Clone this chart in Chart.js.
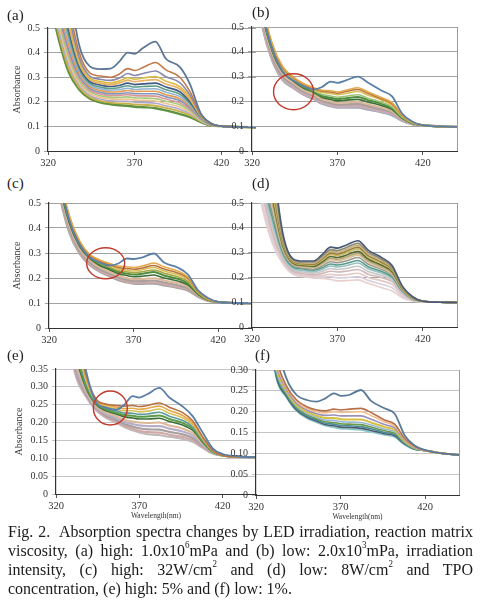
<!DOCTYPE html>
<html><head><meta charset="utf-8">
<script src="https://cdn.jsdelivr.net/npm/chart.js@4.4.0/dist/chart.umd.min.js"></script>
<style>
html,body{margin:0;padding:0;background:#fff;}
body{width:483px;height:600px;position:relative;overflow:hidden;font-family:'Liberation Serif','Times New Roman',serif;color:#222;}
canvas{position:absolute;}
.lbl{position:absolute;font-size:15px;line-height:15px;color:#222;}
.cap{position:absolute;left:8px;top:522px;width:465px;font-size:16px;line-height:17.1px;color:#1a1a1a;transform:scale(1,1.1);transform-origin:0 0;}
.cap div{text-align:justify;text-align-last:justify;}
.cap div.last{text-align-last:left;}
.cap sup{font-size:9px;line-height:0;vertical-align:baseline;position:relative;top:-0.75em;}
</style>
</head><body>
<script>
// ---------- shared axis values ----------
const WAVELENGTHS = [320, 326, 332, 338, 344, 350, 356, 361, 366, 370, 375, 382, 388, 396, 402, 408, 414, 420, 430, 440];
const X_TICKS = [320, 370, 420];

// ---------- (a) high viscosity ----------
const a1 = [1.5, 1.0, 0.68, 0.43, 0.345, 0.333, 0.335, 0.362, 0.40, 0.395, 0.42, 0.445, 0.375, 0.342, 0.27, 0.155, 0.113, 0.101, 0.098, 0.096];
const a2 = [1.3, 0.9, 0.6, 0.40, 0.318, 0.305, 0.30, 0.312, 0.335, 0.327, 0.34, 0.36, 0.33, 0.30, 0.24, 0.15, 0.112, 0.101, 0.098, 0.096];
const a3 = [1.2, 0.83, 0.56, 0.38, 0.305, 0.292, 0.287, 0.296, 0.315, 0.307, 0.315, 0.325, 0.302, 0.278, 0.226, 0.148, 0.111, 0.101, 0.098, 0.096];
const a4 = [1.12, 0.78, 0.53, 0.365, 0.296, 0.283, 0.277, 0.284, 0.298, 0.292, 0.297, 0.303, 0.284, 0.262, 0.216, 0.145, 0.11, 0.101, 0.098, 0.096];
const a5 = [1.06, 0.74, 0.51, 0.355, 0.29, 0.276, 0.27, 0.276, 0.288, 0.282, 0.286, 0.29, 0.272, 0.252, 0.208, 0.143, 0.109, 0.101, 0.098, 0.096];
const a6 = [1.0, 0.7, 0.49, 0.345, 0.283, 0.268, 0.262, 0.266, 0.276, 0.27, 0.273, 0.276, 0.26, 0.241, 0.2, 0.141, 0.108, 0.101, 0.098, 0.096];
const a7 = [0.96, 0.67, 0.47, 0.335, 0.276, 0.26, 0.254, 0.257, 0.265, 0.26, 0.262, 0.264, 0.249, 0.231, 0.193, 0.139, 0.108, 0.101, 0.098, 0.096];
const a8 = [0.92, 0.64, 0.45, 0.325, 0.269, 0.253, 0.247, 0.249, 0.255, 0.25, 0.252, 0.253, 0.239, 0.222, 0.187, 0.137, 0.107, 0.101, 0.098, 0.096];
const a9 = [0.88, 0.61, 0.43, 0.315, 0.262, 0.246, 0.24, 0.241, 0.246, 0.242, 0.243, 0.243, 0.229, 0.213, 0.181, 0.135, 0.107, 0.101, 0.098, 0.096];
const a10 = [0.84, 0.58, 0.41, 0.305, 0.255, 0.239, 0.233, 0.233, 0.237, 0.233, 0.233, 0.233, 0.22, 0.205, 0.175, 0.133, 0.106, 0.101, 0.098, 0.096];
const a11 = [0.8, 0.56, 0.395, 0.295, 0.248, 0.232, 0.226, 0.226, 0.229, 0.225, 0.224, 0.223, 0.211, 0.196, 0.169, 0.131, 0.106, 0.101, 0.098, 0.096];
const a12 = [0.77, 0.54, 0.38, 0.285, 0.241, 0.225, 0.219, 0.218, 0.22, 0.216, 0.215, 0.213, 0.202, 0.188, 0.163, 0.128, 0.105, 0.101, 0.098, 0.096];
const a13 = [0.74, 0.52, 0.365, 0.275, 0.234, 0.218, 0.212, 0.21, 0.211, 0.207, 0.206, 0.203, 0.193, 0.179, 0.157, 0.126, 0.105, 0.101, 0.098, 0.096];
const a14 = [0.71, 0.5, 0.35, 0.267, 0.227, 0.211, 0.204, 0.202, 0.202, 0.198, 0.197, 0.194, 0.184, 0.17, 0.151, 0.124, 0.104, 0.101, 0.098, 0.096];
const a15 = [0.68, 0.48, 0.335, 0.258, 0.22, 0.204, 0.197, 0.194, 0.193, 0.189, 0.188, 0.184, 0.175, 0.161, 0.145, 0.121, 0.104, 0.101, 0.098, 0.096];
const a16 = [0.65, 0.46, 0.32, 0.25, 0.213, 0.198, 0.19, 0.186, 0.184, 0.18, 0.178, 0.174, 0.165, 0.15, 0.138, 0.118, 0.103, 0.101, 0.098, 0.096];

// ---------- (b) low viscosity ----------
const b1 = [1.0, 0.58, 0.41, 0.32, 0.285, 0.262, 0.248, 0.258, 0.28, 0.275, 0.285, 0.30, 0.275, 0.243, 0.22, 0.15, 0.118, 0.104, 0.099, 0.097];
const b2 = [0.95, 0.6, 0.43, 0.34, 0.30, 0.272, 0.255, 0.245, 0.243, 0.238, 0.245, 0.255, 0.238, 0.215, 0.195, 0.145, 0.116, 0.104, 0.099, 0.097];
const b3 = [0.93, 0.59, 0.425, 0.335, 0.297, 0.27, 0.252, 0.241, 0.238, 0.233, 0.24, 0.248, 0.232, 0.21, 0.19, 0.143, 0.115, 0.104, 0.099, 0.097];
const b4 = [0.9, 0.58, 0.42, 0.33, 0.293, 0.266, 0.248, 0.236, 0.232, 0.227, 0.232, 0.24, 0.225, 0.205, 0.185, 0.14, 0.114, 0.104, 0.099, 0.097];
const b5 = [0.88, 0.57, 0.41, 0.325, 0.29, 0.262, 0.244, 0.228, 0.222, 0.217, 0.221, 0.227, 0.213, 0.196, 0.178, 0.137, 0.113, 0.104, 0.099, 0.097];
const b6 = [0.87, 0.565, 0.405, 0.322, 0.287, 0.258, 0.24, 0.222, 0.215, 0.209, 0.213, 0.218, 0.205, 0.19, 0.172, 0.134, 0.112, 0.104, 0.099, 0.097];
const b7 = [0.85, 0.555, 0.4, 0.318, 0.283, 0.254, 0.236, 0.216, 0.208, 0.202, 0.205, 0.208, 0.197, 0.183, 0.167, 0.132, 0.111, 0.104, 0.099, 0.097];
const b8 = [0.82, 0.54, 0.39, 0.31, 0.275, 0.246, 0.228, 0.209, 0.2, 0.194, 0.196, 0.198, 0.188, 0.175, 0.16, 0.129, 0.11, 0.104, 0.099, 0.097];
const b9 = [0.8, 0.53, 0.38, 0.3, 0.268, 0.24, 0.222, 0.203, 0.193, 0.187, 0.188, 0.19, 0.181, 0.168, 0.155, 0.127, 0.109, 0.104, 0.099, 0.097];
const b10 = [0.78, 0.52, 0.37, 0.295, 0.262, 0.235, 0.217, 0.198, 0.188, 0.182, 0.183, 0.184, 0.176, 0.163, 0.151, 0.125, 0.108, 0.104, 0.099, 0.097];
const b11 = [0.76, 0.51, 0.365, 0.29, 0.258, 0.231, 0.213, 0.194, 0.184, 0.178, 0.178, 0.179, 0.171, 0.159, 0.147, 0.123, 0.108, 0.104, 0.099, 0.097];
const b12 = [0.74, 0.5, 0.36, 0.285, 0.254, 0.227, 0.209, 0.19, 0.18, 0.174, 0.174, 0.174, 0.166, 0.155, 0.143, 0.121, 0.107, 0.104, 0.099, 0.097];

// ---------- (c) high irradiation intensity ----------
const c1 = [1.0, 0.62, 0.43, 0.335, 0.283, 0.262, 0.25, 0.258, 0.278, 0.276, 0.282, 0.298, 0.262, 0.242, 0.215, 0.152, 0.12, 0.104, 0.1, 0.099];
const c2 = [0.95, 0.63, 0.45, 0.35, 0.295, 0.272, 0.258, 0.248, 0.245, 0.242, 0.248, 0.26, 0.245, 0.228, 0.205, 0.15, 0.117, 0.104, 0.1, 0.099];
const c3 = [0.93, 0.62, 0.445, 0.346, 0.292, 0.268, 0.253, 0.242, 0.238, 0.235, 0.24, 0.25, 0.236, 0.22, 0.2, 0.147, 0.116, 0.104, 0.1, 0.099];
const c4 = [0.91, 0.61, 0.44, 0.342, 0.289, 0.264, 0.248, 0.236, 0.232, 0.228, 0.233, 0.242, 0.228, 0.213, 0.194, 0.144, 0.115, 0.104, 0.1, 0.099];
const c5 = [0.89, 0.6, 0.435, 0.338, 0.286, 0.26, 0.243, 0.23, 0.225, 0.221, 0.225, 0.232, 0.219, 0.205, 0.187, 0.141, 0.114, 0.104, 0.1, 0.099];
const c6 = [0.88, 0.595, 0.43, 0.335, 0.283, 0.256, 0.238, 0.224, 0.218, 0.214, 0.217, 0.224, 0.21, 0.197, 0.18, 0.138, 0.113, 0.104, 0.1, 0.099];
const c7 = [0.86, 0.585, 0.42, 0.328, 0.278, 0.25, 0.232, 0.217, 0.21, 0.205, 0.207, 0.212, 0.2, 0.188, 0.173, 0.135, 0.112, 0.104, 0.1, 0.099];
const c8 = [0.83, 0.57, 0.41, 0.318, 0.27, 0.242, 0.224, 0.209, 0.2, 0.195, 0.196, 0.199, 0.19, 0.179, 0.166, 0.132, 0.111, 0.104, 0.1, 0.099];
const c9 = [0.8, 0.555, 0.4, 0.31, 0.263, 0.235, 0.217, 0.202, 0.193, 0.188, 0.188, 0.19, 0.182, 0.171, 0.16, 0.129, 0.11, 0.104, 0.1, 0.099];
const c10 = [0.78, 0.545, 0.39, 0.303, 0.257, 0.229, 0.211, 0.196, 0.187, 0.182, 0.182, 0.183, 0.176, 0.165, 0.155, 0.127, 0.109, 0.104, 0.1, 0.099];
const c11 = [0.76, 0.535, 0.38, 0.297, 0.252, 0.224, 0.206, 0.191, 0.182, 0.177, 0.176, 0.177, 0.17, 0.16, 0.15, 0.125, 0.108, 0.104, 0.1, 0.099];

// ---------- (d) low irradiation intensity ----------
const d1 = [1.5, 1.0, 0.68, 0.38, 0.275, 0.266, 0.266, 0.292, 0.322, 0.318, 0.33, 0.348, 0.31, 0.28, 0.248, 0.165, 0.122, 0.104, 0.1, 0.099];
const d2 = [1.35, 0.92, 0.64, 0.365, 0.272, 0.262, 0.262, 0.285, 0.312, 0.308, 0.32, 0.338, 0.302, 0.273, 0.243, 0.163, 0.121, 0.104, 0.1, 0.099];
const d3 = [1.25, 0.86, 0.6, 0.355, 0.268, 0.258, 0.257, 0.279, 0.305, 0.301, 0.312, 0.33, 0.295, 0.267, 0.238, 0.161, 0.12, 0.104, 0.1, 0.099];
const d4 = [1.15, 0.8, 0.57, 0.345, 0.265, 0.255, 0.253, 0.274, 0.298, 0.294, 0.305, 0.322, 0.288, 0.261, 0.233, 0.159, 0.119, 0.104, 0.1, 0.099];
const d5 = [1.08, 0.76, 0.54, 0.337, 0.262, 0.252, 0.25, 0.269, 0.292, 0.288, 0.298, 0.315, 0.282, 0.256, 0.229, 0.157, 0.118, 0.104, 0.1, 0.099];
const d6 = [1.02, 0.72, 0.52, 0.33, 0.258, 0.248, 0.245, 0.262, 0.284, 0.28, 0.289, 0.305, 0.274, 0.249, 0.223, 0.155, 0.117, 0.104, 0.1, 0.099];
const d7 = [0.97, 0.69, 0.5, 0.322, 0.255, 0.245, 0.242, 0.257, 0.277, 0.273, 0.282, 0.297, 0.267, 0.243, 0.218, 0.152, 0.116, 0.104, 0.1, 0.099];
const d8 = [0.93, 0.66, 0.48, 0.315, 0.252, 0.242, 0.238, 0.252, 0.271, 0.267, 0.275, 0.29, 0.261, 0.238, 0.213, 0.15, 0.115, 0.104, 0.1, 0.099];
const d9 = [0.89, 0.63, 0.46, 0.308, 0.248, 0.238, 0.234, 0.246, 0.263, 0.259, 0.266, 0.28, 0.253, 0.232, 0.208, 0.148, 0.114, 0.104, 0.1, 0.099];
const d10 = [0.86, 0.61, 0.44, 0.3, 0.243, 0.234, 0.229, 0.239, 0.254, 0.25, 0.256, 0.268, 0.243, 0.224, 0.202, 0.145, 0.113, 0.104, 0.1, 0.099];
const d11 = [0.83, 0.59, 0.42, 0.292, 0.237, 0.228, 0.223, 0.232, 0.246, 0.242, 0.247, 0.258, 0.235, 0.217, 0.197, 0.142, 0.112, 0.104, 0.1, 0.099];
const d12 = [0.8, 0.57, 0.4, 0.284, 0.231, 0.222, 0.217, 0.224, 0.236, 0.232, 0.236, 0.245, 0.224, 0.208, 0.19, 0.139, 0.111, 0.104, 0.1, 0.099];
const d13 = [0.77, 0.55, 0.38, 0.276, 0.225, 0.216, 0.21, 0.216, 0.225, 0.222, 0.225, 0.232, 0.213, 0.199, 0.183, 0.136, 0.11, 0.104, 0.1, 0.099];
const d14 = [0.75, 0.53, 0.365, 0.27, 0.22, 0.21, 0.204, 0.207, 0.213, 0.209, 0.211, 0.217, 0.2, 0.186, 0.172, 0.131, 0.108, 0.103, 0.1, 0.099];
const d15 = [0.72, 0.5, 0.35, 0.262, 0.216, 0.206, 0.2, 0.201, 0.203, 0.198, 0.199, 0.203, 0.188, 0.172, 0.159, 0.124, 0.106, 0.102, 0.1, 0.099];
const d16 = [0.7, 0.48, 0.335, 0.255, 0.212, 0.203, 0.198, 0.196, 0.192, 0.186, 0.187, 0.19, 0.176, 0.158, 0.145, 0.118, 0.105, 0.102, 0.1, 0.099];

// ---------- (e) high TPO concentration ----------
const e1 = [1.0, 0.7, 0.5, 0.345, 0.258, 0.242, 0.236, 0.25, 0.274, 0.27, 0.28, 0.297, 0.27, 0.245, 0.218, 0.172, 0.128, 0.112, 0.105, 0.103];
const e2 = [0.95, 0.66, 0.47, 0.335, 0.266, 0.252, 0.248, 0.246, 0.248, 0.245, 0.248, 0.255, 0.243, 0.228, 0.205, 0.16, 0.123, 0.108, 0.104, 0.103];
const e3 = [0.9, 0.63, 0.45, 0.325, 0.263, 0.249, 0.243, 0.239, 0.24, 0.237, 0.24, 0.246, 0.234, 0.22, 0.199, 0.157, 0.122, 0.108, 0.104, 0.103];
const e4 = [0.86, 0.6, 0.43, 0.318, 0.26, 0.245, 0.238, 0.233, 0.233, 0.23, 0.232, 0.238, 0.226, 0.213, 0.194, 0.154, 0.121, 0.108, 0.104, 0.103];
const e5 = [0.83, 0.58, 0.415, 0.31, 0.257, 0.241, 0.233, 0.227, 0.226, 0.223, 0.224, 0.229, 0.218, 0.206, 0.188, 0.151, 0.12, 0.108, 0.104, 0.103];
const e6 = [0.8, 0.56, 0.4, 0.303, 0.254, 0.237, 0.228, 0.221, 0.219, 0.216, 0.217, 0.22, 0.21, 0.199, 0.183, 0.148, 0.119, 0.108, 0.104, 0.103];
const e7 = [0.77, 0.54, 0.385, 0.297, 0.251, 0.233, 0.224, 0.216, 0.213, 0.21, 0.21, 0.212, 0.203, 0.193, 0.178, 0.145, 0.118, 0.108, 0.104, 0.103];
const e8 = [0.74, 0.52, 0.37, 0.29, 0.246, 0.228, 0.218, 0.208, 0.203, 0.2, 0.199, 0.2, 0.192, 0.183, 0.17, 0.141, 0.117, 0.108, 0.104, 0.103];
const e9 = [0.71, 0.5, 0.355, 0.285, 0.243, 0.224, 0.213, 0.202, 0.196, 0.192, 0.19, 0.19, 0.183, 0.175, 0.164, 0.138, 0.116, 0.108, 0.104, 0.103];
const e10 = [0.68, 0.485, 0.345, 0.28, 0.24, 0.22, 0.208, 0.196, 0.189, 0.184, 0.181, 0.18, 0.174, 0.167, 0.157, 0.135, 0.115, 0.108, 0.104, 0.103];
const e11 = [0.66, 0.47, 0.335, 0.276, 0.237, 0.216, 0.204, 0.191, 0.183, 0.177, 0.173, 0.172, 0.166, 0.16, 0.151, 0.132, 0.114, 0.108, 0.104, 0.103];
const e12 = [0.64, 0.46, 0.328, 0.272, 0.234, 0.213, 0.2, 0.187, 0.178, 0.172, 0.167, 0.165, 0.16, 0.154, 0.146, 0.129, 0.113, 0.108, 0.104, 0.103];

// ---------- (f) low TPO concentration ----------
const f1 = [0.8, 0.55, 0.37, 0.28, 0.24, 0.228, 0.224, 0.232, 0.244, 0.238, 0.24, 0.252, 0.226, 0.208, 0.195, 0.142, 0.118, 0.108, 0.1, 0.096];
const f2 = [0.75, 0.5, 0.33, 0.262, 0.228, 0.212, 0.204, 0.202, 0.206, 0.204, 0.206, 0.208, 0.198, 0.18, 0.17, 0.135, 0.116, 0.107, 0.1, 0.096];
const f3 = [0.73, 0.49, 0.322, 0.258, 0.224, 0.208, 0.2, 0.197, 0.2, 0.198, 0.199, 0.2, 0.191, 0.175, 0.166, 0.133, 0.115, 0.107, 0.1, 0.096];
const f4 = [0.71, 0.48, 0.315, 0.254, 0.22, 0.204, 0.195, 0.191, 0.192, 0.19, 0.19, 0.19, 0.182, 0.169, 0.161, 0.131, 0.114, 0.107, 0.1, 0.096];
const f5 = [0.7, 0.47, 0.308, 0.25, 0.216, 0.2, 0.19, 0.185, 0.185, 0.182, 0.181, 0.181, 0.174, 0.163, 0.156, 0.129, 0.113, 0.107, 0.1, 0.096];
const f6 = [0.68, 0.465, 0.3, 0.246, 0.213, 0.196, 0.186, 0.18, 0.179, 0.176, 0.175, 0.174, 0.168, 0.158, 0.152, 0.127, 0.112, 0.107, 0.1, 0.096];
const f7 = [0.67, 0.46, 0.295, 0.243, 0.21, 0.193, 0.183, 0.176, 0.174, 0.171, 0.17, 0.169, 0.163, 0.154, 0.148, 0.125, 0.111, 0.107, 0.1, 0.096];
const f8 = [0.66, 0.455, 0.29, 0.24, 0.207, 0.19, 0.18, 0.172, 0.17, 0.167, 0.166, 0.164, 0.159, 0.15, 0.145, 0.123, 0.11, 0.107, 0.1, 0.096];
const f9 = [0.65, 0.45, 0.285, 0.237, 0.204, 0.187, 0.177, 0.169, 0.166, 0.163, 0.162, 0.16, 0.155, 0.147, 0.142, 0.122, 0.11, 0.107, 0.1, 0.096];
const f10 = [0.64, 0.445, 0.28, 0.234, 0.201, 0.184, 0.174, 0.166, 0.162, 0.159, 0.158, 0.156, 0.151, 0.144, 0.139, 0.12, 0.109, 0.107, 0.1, 0.096];

// ---------- line styles (kept apart from data) ----------
const COLORS_A = ['#5d7896','#c27a4a','#8b87ad','#d9bd45','#e8b060','#3d5a85','#5c9c88','#8fb4d0','#e39a52','#7f96b8','#d9979a','#a9c97c','#ecc48e','#b0a8cc','#c8b048','#5e9140'];
const COLORS_B = ['#5b7fa6','#e6a84c','#b8743e','#d8c25a','#9cc27a','#4e8c3e','#3d6e38','#dcb898','#a8a0a0','#d0a8a8','#b8aec8','#a6a6a6'];
const COLORS_C = ['#5b7fa6','#e6a84c','#b8743e','#d8c25a','#a8a848','#4e8c3e','#3d6e38','#dcb898','#a8a0a0','#d0a8a8','#a6a6a6'];
const COLORS_D = ['#4a5a78','#8a8a70','#c8b080','#9a8040','#c8b860','#566a38','#b8a870','#d8c0a0','#9a9a90','#5a9a8a','#98c0c0','#c8c8c8','#d0b8b8','#e4c8c4','#d8d0dc','#e8d0cc'];
const COLORS_E = ['#5b7fa6','#b87040','#e6a84c','#d8c25a','#5a9aa0','#5a9a48','#3d6e38','#dcb898','#b8aec8','#a8a0a0','#d0a8a8','#c0b8b8'];
const COLORS_F = ['#5b7a98','#b8704a','#f0c090','#9a90b8','#d8c040','#98b8d8','#6a9a48','#4a8a98','#4a5a70','#8ac8c8'];

const SERIF = "'Liberation Serif','Times New Roman',serif";

const ringPlugin = {
  id: 'ring',
  afterDatasetsDraw(chart, args, o) {
    if (!o || !o.at) return;
    const {ctx, scales: {x, y}} = chart;
    ctx.save();
    ctx.strokeStyle = '#c0392b';
    ctx.lineWidth = 1.4;
    ctx.beginPath();
    ctx.ellipse(x.getPixelForValue(o.at[0]), y.getPixelForValue(o.at[1]), o.rx, o.ry, 0, 0, Math.PI * 2);
    ctx.stroke();
    ctx.restore();
  }
};
const frameRightPlugin = {
  id: 'frameRight',
  afterDraw(chart, args, o) {
    if (!o || !o.show) return;
    const {ctx, chartArea: a} = chart;
    ctx.save();
    ctx.strokeStyle = '#9a9a9a';
    ctx.lineWidth = 1;
    ctx.beginPath();
    ctx.moveTo(Math.round(a.right) + 0.5, a.top);
    ctx.lineTo(Math.round(a.right) + 0.5, a.bottom);
    ctx.stroke();
    ctx.restore();
  }
};

function panel(p) {
  const padL = 48, padT = 8, padR = 4, padB = p.xTitle ? 28 : 20;
  const W = p.box.r - p.box.l + padL + padR;
  const H = p.box.b - p.box.t + padT + padB;
  const cv = document.createElement('canvas');
  cv.width = W; cv.height = H;
  cv.style.left = (p.box.l - padL) + 'px';
  cv.style.top = (p.box.t - padT) + 'px';
  cv.style.width = W + 'px'; cv.style.height = H + 'px';
  document.body.appendChild(cv);
  const canvasLeft = p.box.l - padL;
  const datasets = p.series.map((s, i) => ({
    data: WAVELENGTHS.map((w, k) => ({x: w, y: s[k]})),
    borderColor: p.colors[i],
    borderWidth: (p.widths && p.widths[i]) || 1.6,
    pointRadius: 0,
    fill: false,
    cubicInterpolationMode: 'monotone',
    clip: 0
  }));
  new Chart(cv, {
    type: 'line',
    data: {datasets},
    options: {
      responsive: false, animation: false, devicePixelRatio: 1,
      layout: {padding: {left: 0, top: padT, right: padR, bottom: 0}},
      plugins: {
        legend: {display: false}, tooltip: {enabled: false},
        ring: p.ring || {}, frameRight: {show: !!p.rightBorder}
      },
      scales: {
        x: {
          type: 'linear', min: 320, max: 440,
          afterBuildTicks: s => { s.ticks = X_TICKS.map(v => ({value: v})); },
          afterFit: s => { s.height = padB; s.paddingLeft = 0; s.paddingRight = 0; },
          grid: {drawOnChartArea: false, tickLength: 4, color: '#555'},
          border: {color: '#333', width: 1},
          ticks: {font: {family: SERIF, size: 10.5}, color: '#333', padding: 2, maxRotation: 0, autoSkip: false},
          title: p.xTitle ? {display: true, text: 'Wavelength(nm)', font: {family: SERIF, size: 7.5}, color: '#333', padding: {top: 0, bottom: 1.5}} : {display: false}
        },
        y: {
          min: 0, max: p.yMax,
          ticks: {stepSize: p.yStep, font: {family: SERIF, size: 10}, color: '#333', padding: 4},
          afterFit: s => { s.width = padL; s.paddingTop = 0; s.paddingBottom = 0; },
          grid: {color: p.gridColor, tickLength: 4, lineWidth: 1},
          border: {color: '#333', width: 1.2},
          title: p.yTitle ? {display: true, text: 'Absorbance', font: {family: SERIF, size: 10}, color: '#333',
                    padding: {top: p.yTitle - canvasLeft - 6, bottom: 0}} : {display: false}
        }
      }
    },
    plugins: [ringPlugin, frameRightPlugin]
  });
}

const W16 = [1.8,1.6,1.6,1.6,1.6,1.6,1.6,1.6,1.6,1.6,1.6,1.6,1.6,1.6,1.8,2.4];

panel({box: {l: 48, t: 28, r: 256, b: 151}, yMax: 0.5, yStep: 0.1, gridColor: '#a3a3a3', yTitle: 17,
  series: [a1,a2,a3,a4,a5,a6,a7,a8,a9,a10,a11,a12,a13,a14,a15,a16], colors: COLORS_A, widths: W16});
panel({box: {l: 252, t: 27, r: 457, b: 151}, yMax: 0.5, yStep: 0.1, gridColor: '#a3a3a3', rightBorder: true,
  series: [b1,b2,b3,b4,b5,b6,b7,b8,b9,b10,b11,b12], colors: COLORS_B, widths: [1.8,1.6,1.6,1.6,1.6,2,1.6,2,2.2,2.2,2.2,2],
  ring: {at: [344.3, 0.239], rx: 20, ry: 18}});
panel({box: {l: 49, t: 203, r: 252, b: 328}, yMax: 0.5, yStep: 0.1, gridColor: '#a3a3a3', yTitle: 17,
  series: [c1,c2,c3,c4,c5,c6,c7,c8,c9,c10,c11], colors: COLORS_C, widths: [1.8,1.6,1.6,1.6,1.6,2,1.6,2,2.2,2.2,2],
  ring: {at: [353.5, 0.259], rx: 19, ry: 15.5}});
panel({box: {l: 252, t: 203, r: 457, b: 327}, yMax: 0.5, yStep: 0.1, gridColor: '#a3a3a3', rightBorder: true,
  series: [d1,d2,d3,d4,d5,d6,d7,d8,d9,d10,d11,d12,d13,d14,d15,d16], colors: COLORS_D});
panel({box: {l: 56, t: 369, r: 256, b: 494}, yMax: 0.35, yStep: 0.05, gridColor: '#c4c4c4', yTitle: 19, xTitle: true,
  series: [e1,e2,e3,e4,e5,e6,e7,e8,e9,e10,e11,e12], colors: COLORS_E, widths: [1.8,1.6,1.6,1.6,1.6,2,1.6,2,2.2,2.2,2.2,2],
  ring: {at: [352.6, 0.2406], rx: 17, ry: 17}});
panel({box: {l: 256, t: 370, r: 459, b: 495}, yMax: 0.3, yStep: 0.05, gridColor: '#c4c4c4', xTitle: true, rightBorder: true,
  series: [f1,f2,f3,f4,f5,f6,f7,f8,f9,f10], colors: COLORS_F, widths: [1.8,1.6,1.6,1.6,2,1.6,1.6,1.6,1.6,1.6]});
</script>
<div class="lbl" style="left:7px;top:8px;">(a)</div>
<div class="lbl" style="left:252px;top:5px;">(b)</div>
<div class="lbl" style="left:7px;top:176px;">(c)</div>
<div class="lbl" style="left:252px;top:176px;">(d)</div>
<div class="lbl" style="left:7px;top:348px;">(e)</div>
<div class="lbl" style="left:255px;top:348px;">(f)</div>
<div class="cap">
  <div>Fig. 2.&nbsp; Absorption spectra changes by LED irradiation, reaction matrix</div>
  <div>viscosity, (a) high: 1.0x10<sup>6</sup>mPa and (b) low: 2.0x10<sup>3</sup>mPa, irradiation</div>
  <div>intensity, (c) high: 32W/cm<sup>2</sup> and (d) low: 8W/cm<sup>2</sup> and TPO</div>
  <div class="last">concentration, (e) high: 5% and (f) low: 1%.</div>
</div>
</body></html>
